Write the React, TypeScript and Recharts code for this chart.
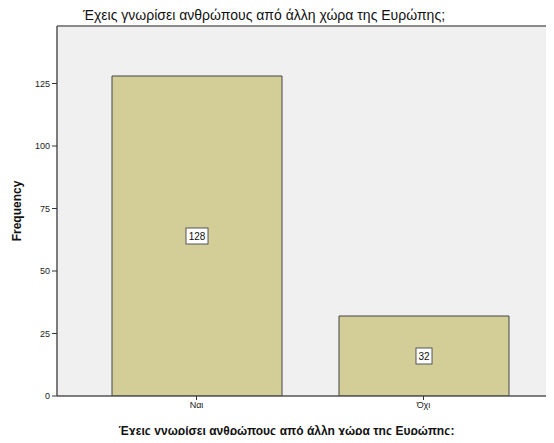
import React from 'react';
import { BarChart, Bar, XAxis, YAxis, CartesianGrid, LabelList, ReferenceLine } from 'recharts';

const categories = ['Ναι', 'Όχι'];
const frequencies = [128, 32];
const yTicks = [0, 25, 50, 75, 100, 125];

const TITLE = 'Έχεις γνωρίσει ανθρώπους από άλλη χώρα της Ευρώπης;';
const FONT = '"Liberation Sans", Arial, sans-serif';

const data = categories.map((name, i) => ({ name, value: frequencies[i] }));

// white boxed value in the middle of each bar, like SPSS does
const BoxLabel = (props: any) => {
  const { x, y, width, height, value } = props;
  const cx = x + width / 2;
  const cy = y + height / 2;
  const w = String(value).length * 6 + 4;
  return (
    <g>
      <rect x={cx - w / 2} y={cy - 8} width={w} height={16} fill="#ffffff" stroke="#555" strokeWidth={1} />
      <text x={cx} y={cy + 4} textAnchor="middle" fontSize={10} fill="#111" fontFamily={FONT}>
        {value}
      </text>
    </g>
  );
};

export default function App() {
  return (
    <div style={{ margin: -8, width: 554, height: 443, overflow: 'hidden', position: 'relative', background: '#fff', fontFamily: FONT }}>
      <div style={{ position: 'absolute', top: 7, left: 0, width: 528, textAlign: 'center', fontSize: 14, color: '#111' }}>
        {TITLE}
      </div>
      <BarChart width={554} height={443} data={data} margin={{ top: 26, right: 0, left: 0, bottom: 17 }}>
        <CartesianGrid horizontal={false} vertical={false} fill="#f0f0f0" />
        <XAxis
          dataKey="name"
          height={30}
          padding={{ left: 26, right: 17 }}
          tickLine={{ stroke: '#333' }}
          tickSize={4}
          axisLine={{ stroke: '#555', strokeWidth: 1.5 }}
          tick={{ fontSize: 9, fill: '#222', fontFamily: FONT }}
          label={{ value: TITLE, position: 'insideBottom', offset: -9, fontSize: 12, fontWeight: 'bold', fill: '#111', fontFamily: FONT, dx: -19 }}
        />
        <YAxis
          width={57}
          domain={[0, 148]}
          ticks={yTicks}
          allowDataOverflow
          tickSize={5}
          tickLine={{ stroke: '#333' }}
          axisLine={{ stroke: '#555', strokeWidth: 1.5 }}
          tick={{ fontSize: 9, fill: '#222', fontFamily: FONT }}
          label={{ value: 'Frequency', angle: -90, position: 'center', dx: -12, fontSize: 12, fontWeight: 'bold', fill: '#111', fontFamily: FONT }}
        />
        <ReferenceLine y={148} stroke="#666" strokeWidth={1.5} />
        <Bar dataKey="value" fill="#d3ce97" stroke="#444" strokeWidth={1} barSize={170} isAnimationActive={false}>
          <LabelList dataKey="value" content={BoxLabel} />
        </Bar>
      </BarChart>
    </div>
  );
}
